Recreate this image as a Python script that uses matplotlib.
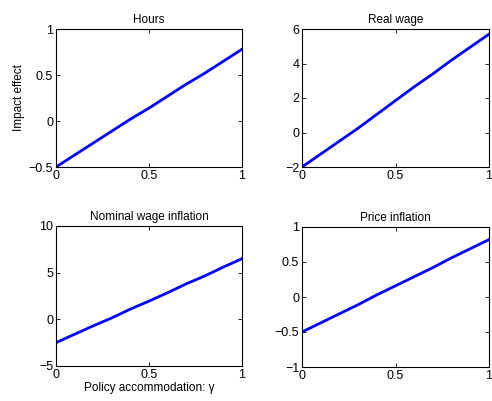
import numpy as np
import matplotlib
matplotlib.use("Agg")
import matplotlib.pyplot as plt

plt.rcParams['font.family'] = ['Liberation Sans', 'DejaVu Sans']

gamma = [0.0, 0.1, 0.2, 0.3, 0.4, 0.5, 0.6, 0.7, 0.8, 0.9, 1.0]
hours = [-0.50, -0.37, -0.24, -0.11, 0.02, 0.14, 0.27, 0.40, 0.52, 0.65, 0.78]
real_wage = [-2.0, -1.25, -0.5, 0.25, 1.05, 1.85, 2.65, 3.4, 4.2, 4.95, 5.7]
nominal_wage = [-2.5, -1.6, -0.7, 0.15, 1.1, 1.95, 2.85, 3.8, 4.65, 5.6, 6.5]
price_infl = [-0.5, -0.37, -0.24, -0.11, 0.03, 0.16, 0.29, 0.42, 0.56, 0.69, 0.82]

titles = ['Hours', 'Real wage', 'Nominal wage inflation', 'Price inflation']
series = [hours, real_wage, nominal_wage, price_infl]
ylims = [(-0.5, 1), (-2, 6), (-5, 10), (-1, 1)]
yticks = [[-0.5, 0, 0.5, 1], [-2, 0, 2, 4, 6], [-5, 0, 5, 10], [-1, -0.5, 0, 0.5, 1]]

fig = plt.figure(figsize=(4.92, 4.01), dpi=100)
W, H = 492, 401
# axes boxes in pixels: left, top, right, bottom
boxes = [(56, 29, 242, 167), (302, 29, 489, 167),
         (56, 226, 242, 366), (302, 227, 489, 367)]

for i, (l, t, r, b) in enumerate(boxes):
    ax = fig.add_axes([l / W, 1 - b / H, (r - l) / W, (b - t) / H])
    ax.plot(gamma, series[i], color=(0, 0, 1), lw=2)
    ax.set_xlim(0, 1)
    ax.set_ylim(*ylims[i])
    ax.set_xticks([0, 0.5, 1])
    ax.set_xticklabels(['0', '0.5', '1'])
    ax.set_yticks(yticks[i])
    ax.set_yticklabels([('%g' % v).replace('-', '\u2212') for v in yticks[i]])
    ax.tick_params(direction='in', top=True, right=True, length=3, width=0.6,
                   labelsize=9, pad=2)
    for s in ax.spines.values():
        s.set_linewidth(0.8)
    ax.set_title(titles[i], fontsize=8.5, pad=4)
    if i == 0:
        ax.set_ylabel('Impact effect', fontsize=8.5, labelpad=3)
    if i == 2:
        ax.set_xlabel('Policy accommodation: \u03b3', fontsize=8.5, labelpad=1)

fig.savefig('out.png', dpi=100)
